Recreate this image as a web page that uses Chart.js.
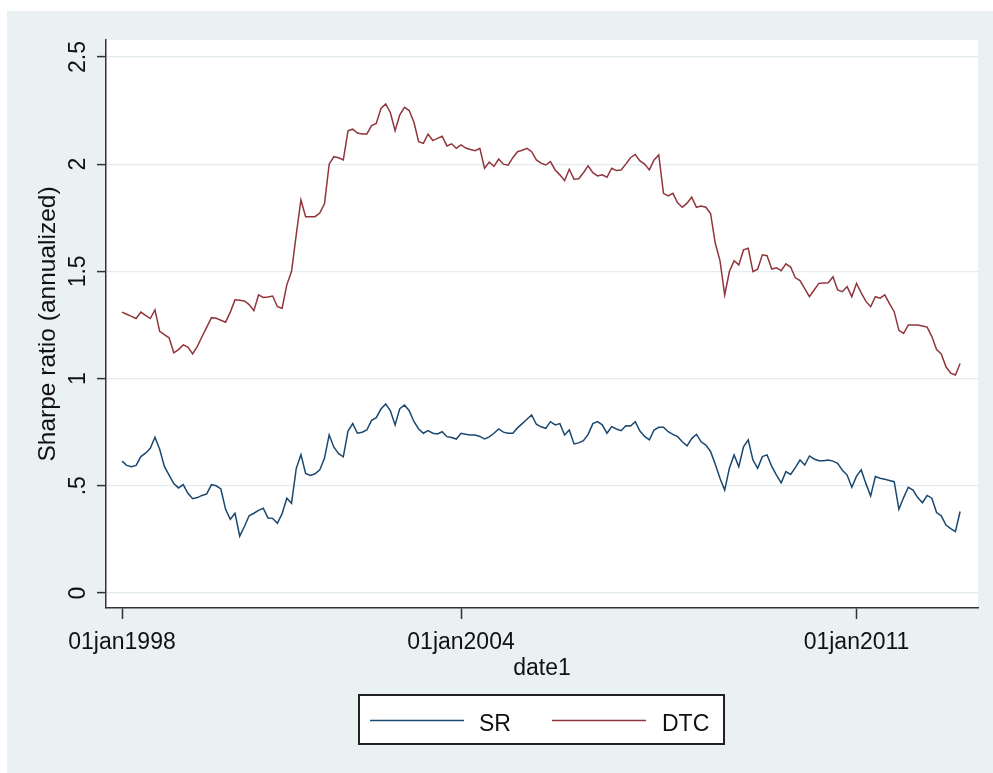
<!DOCTYPE html>
<html>
<head>
<meta charset="utf-8">
<script src="https://cdn.jsdelivr.net/npm/chart.js@4"></script>
<style>
    html, body { margin: 0; padding: 0; background: #fff; }
    #chart-box { width: 993px; height: 773px; }
</style>
</head>
<body>
<div id="chart-box"><canvas id="myChart" width="993" height="773"></canvas></div>
<script>
// monthly, starting jan 1998
const startYear = 1998

const dtcValues = [
    1.31, 1.30, 1.29, 1.28, 1.31, 1.295, 1.28, 1.32, 1.22, 1.205, 1.19, 1.12,
    1.135, 1.157, 1.147, 1.115, 1.15, 1.196, 1.24, 1.284, 1.281, 1.272, 1.263, 1.31,
    1.367, 1.365, 1.362, 1.345, 1.317, 1.39, 1.378, 1.38, 1.385, 1.335, 1.328, 1.437,
    1.499, 1.67, 1.833, 1.755, 1.755, 1.755, 1.772, 1.815, 2.0, 2.035, 2.03, 2.02,
    2.155, 2.163, 2.145, 2.141, 2.141, 2.18, 2.19, 2.26, 2.281, 2.24, 2.156, 2.23,
    2.265, 2.25, 2.195, 2.105, 2.097, 2.14, 2.11, 2.12, 2.13, 2.085, 2.095, 2.074,
    2.09, 2.075, 2.068, 2.063, 2.074, 1.981, 2.01, 1.99, 2.024, 2.0, 1.995, 2.03,
    2.058, 2.065, 2.074, 2.058, 2.02, 2.005, 1.996, 2.012, 1.973, 1.95, 1.923, 1.976,
    1.93, 1.932, 1.96, 1.992, 1.96, 1.945, 1.95, 1.939, 1.981, 1.97, 1.973, 2.0,
    2.03, 2.045, 2.015, 2.0, 1.973, 2.02, 2.043, 1.864, 1.852, 1.864, 1.82, 1.799,
    1.818, 1.846, 1.799, 1.805, 1.799, 1.77, 1.631, 1.55, 1.39, 1.499, 1.55, 1.53,
    1.6, 1.608, 1.499, 1.51, 1.577, 1.573, 1.511, 1.517, 1.503, 1.535, 1.52, 1.47,
    1.457, 1.42, 1.382, 1.413, 1.444, 1.446, 1.447, 1.475, 1.413, 1.405, 1.429, 1.382,
    1.444, 1.4, 1.36, 1.335, 1.382, 1.375, 1.39, 1.35, 1.312, 1.225, 1.211, 1.25,
    1.25, 1.25, 1.245, 1.24, 1.196, 1.135, 1.115, 1.055, 1.025, 1.017, 1.07
]

const srValues = [
    0.615, 0.595, 0.589, 0.595, 0.636, 0.652, 0.675, 0.726, 0.67, 0.59, 0.55, 0.51,
    0.49, 0.505, 0.465, 0.44, 0.445, 0.455, 0.462, 0.505, 0.5, 0.485, 0.39, 0.344,
    0.372, 0.265, 0.31, 0.36, 0.372, 0.385, 0.395, 0.35, 0.348, 0.325, 0.37, 0.442,
    0.418, 0.58, 0.645, 0.558, 0.548, 0.556, 0.574, 0.628, 0.737, 0.68, 0.65, 0.635,
    0.755, 0.79, 0.745, 0.75, 0.76, 0.805, 0.818, 0.858, 0.882, 0.85, 0.784, 0.86,
    0.877, 0.85, 0.8, 0.765, 0.745, 0.757, 0.745, 0.742, 0.752, 0.729, 0.725, 0.718,
    0.745, 0.74, 0.737, 0.737, 0.73, 0.718, 0.728, 0.745, 0.765, 0.75, 0.745, 0.745,
    0.77, 0.79, 0.81, 0.83, 0.787, 0.775, 0.768, 0.799, 0.784, 0.79, 0.737, 0.76,
    0.695, 0.7, 0.71, 0.74, 0.79, 0.799, 0.784, 0.745, 0.776, 0.765, 0.757, 0.78,
    0.779, 0.799, 0.755, 0.73, 0.714, 0.76, 0.773, 0.773, 0.752, 0.74, 0.729, 0.705,
    0.686, 0.72, 0.74, 0.705, 0.69, 0.66, 0.6, 0.535, 0.48, 0.582, 0.644, 0.589,
    0.682, 0.714, 0.62, 0.582, 0.636, 0.644, 0.59, 0.55, 0.514, 0.566, 0.553, 0.585,
    0.62, 0.597, 0.639, 0.625, 0.617, 0.617, 0.62, 0.615, 0.605, 0.572, 0.55, 0.493,
    0.545, 0.574, 0.51, 0.452, 0.543, 0.535, 0.53, 0.525, 0.519, 0.39, 0.445, 0.493,
    0.48, 0.445, 0.421, 0.455, 0.442, 0.375, 0.36, 0.317, 0.3, 0.286, 0.38
]

// x ticks, in months since jan 1998
const xTickMonths = [0, 72, 156]
const xTickLabels = ['01jan1998', '01jan2004', '01jan2011']

const yTickValues = [0, 0.5, 1, 1.5, 2, 2.5]
const yTickLabels = ['0', '.5', '1', '1.5', '2', '2.5']

const seriesNames = ['SR', 'DTC']
const seriesColors = ['rgb(26, 71, 111)', 'rgb(144, 53, 59)']

const toPoints = (values) => values.map((v, i) => ({ x: i, y: v }))

const bgColor = '#eaf1f3'
const gridColor = '#e3ecef'
const inkColor = '#333'
const fontName = '"Liberation Sans", Arial, sans-serif'

const stataBackground = {
    id: 'stataBackground',
    beforeDraw: (chart) => {
        const ctx = chart.ctx
        const area = chart.chartArea
        ctx.save()
        ctx.fillStyle = '#fff'
        ctx.fillRect(0, 0, chart.width, chart.height)
        ctx.fillStyle = bgColor
        ctx.fillRect(7, 11, chart.width - 7, chart.height - 11)
        ctx.fillStyle = '#fff'
        ctx.fillRect(area.left, area.top, area.right - area.left, area.bottom - area.top)
        ctx.restore()
    }
}

// rotated y tick labels + boxed legend
const stataExtras = {
    id: 'stataExtras',
    afterDraw: (chart) => {
        const ctx = chart.ctx
        const yScale = chart.scales.y
        ctx.save()
        ctx.fillStyle = '#111'
        ctx.font = `23px ${fontName}`
        ctx.textAlign = 'center'
        ctx.textBaseline = 'alphabetic'
        yTickValues.forEach((v, i) => {
            const py = yScale.getPixelForValue(v)
            ctx.save()
            ctx.translate(85, py)
            ctx.rotate(-Math.PI / 2)
            ctx.fillText(yTickLabels[i], 0, 0)
            ctx.restore()
        })

        // legend
        ctx.fillStyle = '#fff'
        ctx.fillRect(359, 695, 365, 49)
        ctx.strokeStyle = '#222'
        ctx.lineWidth = 2
        ctx.strokeRect(359, 695, 365, 49)

        const legendItems = [
            { lineX: 370, textX: 479 },
            { lineX: 552, textX: 662 }
        ]
        ctx.textAlign = 'left'
        legendItems.forEach((item, i) => {
            ctx.strokeStyle = seriesColors[i]
            ctx.lineWidth = 1.5
            ctx.beginPath()
            ctx.moveTo(item.lineX, 720.5)
            ctx.lineTo(item.lineX + 94, 720.5)
            ctx.stroke()
            ctx.fillStyle = '#111'
            ctx.fillText(seriesNames[i], item.textX, 730.5)
        })
        ctx.restore()
    }
}

new Chart(document.getElementById('myChart'), {
    type: 'line',
    data: {
        datasets: [srValues, dtcValues].map((values, i) => ({
            label: seriesNames[i],
            data: toPoints(values),
            borderColor: seriesColors[i],
            borderWidth: 1.5,
            pointRadius: 0,
            tension: 0,
            fill: false
        }))
    },
    options: {
        responsive: false,
        animation: false,
        layout: {
            padding: { left: 7, top: 40, right: 15, bottom: 83 }
        },
        plugins: {
            legend: { display: false },
            tooltip: { enabled: false }
        },
        scales: {
            x: {
                type: 'linear',
                min: -3.4,
                max: 181.8,
                afterBuildTicks: (scale) => {
                    scale.ticks = xTickMonths.map(v => ({ value: v }))
                },
                afterFit: (scale) => { scale.height = 82 },
                ticks: {
                    autoSkip: false,
                    maxRotation: 0,
                    padding: 10,
                    color: '#111',
                    font: { family: fontName, size: 23 },
                    callback: (value) => xTickLabels[xTickMonths.indexOf(value)]
                },
                grid: {
                    drawOnChartArea: false,
                    tickLength: 11,
                    tickColor: inkColor,
                    tickWidth: 1.5
                },
                border: { color: inkColor, width: 1.5 },
                title: {
                    display: true,
                    text: 'date1',
                    color: '#111',
                    font: { family: fontName, size: 23, lineHeight: 1 },
                    padding: { top: 0, bottom: 9.5 }
                }
            },
            y: {
                min: -0.07,
                max: 2.579,
                afterBuildTicks: (scale) => {
                    scale.ticks = yTickValues.map(v => ({ value: v }))
                },
                afterFit: (scale) => { scale.width = 99 },
                ticks: { display: false },
                grid: {
                    color: gridColor,
                    lineWidth: 1.2,
                    tickLength: 9,
                    tickColor: inkColor,
                    tickWidth: 1.5
                },
                border: { color: inkColor, width: 1.5 },
                title: {
                    display: true,
                    text: 'Sharpe ratio (annualized)',
                    color: '#111',
                    font: { family: fontName, size: 24.5, lineHeight: 1 },
                    padding: { top: 29, bottom: 0 }
                }
            }
        }
    },
    plugins: [stataBackground, stataExtras]
})
</script>
</body>
</html>
